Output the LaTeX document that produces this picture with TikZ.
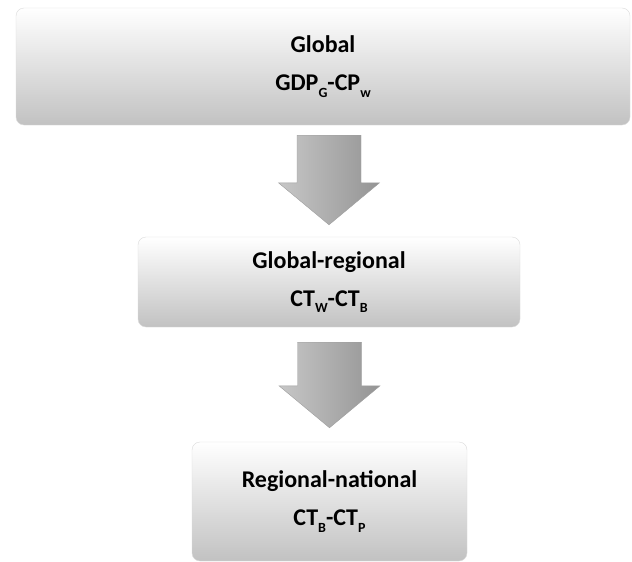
\documentclass[tikz,border=0pt]{standalone}
\usepackage{fontspec}
\setmainfont{Carlito}
\usetikzlibrary{calc}
\newcommand{\lo}[1]{\raisebox{-0.28em}{\fontsize{14}{14}\selectfont #1}}
\tikzset{
        stage/.style={
                rectangle,
                rounded corners=8pt,
                draw=black!14,
                top color=white,
                bottom color=black!24,
                align=center,
                inner sep=0pt,
                font=\fontsize{24}{38}\selectfont\bfseries
            },
        flow/.style={
                draw=black!38,
                left color=black!22,
                right color=black!42
            },
}
% block arrow from the bottom of #1 to the top of #2
\newcommand{\flowarrow}[4]{
  \path[flow] let \p1=(#1.south), \p2=(#2.north) in
    (\x2-32pt,\y1-#3) -- (\x2+32pt,\y1-#3) -- (\x2+32pt,\y2+#4+42pt)
    -- (\x2+50.5pt,\y2+#4+42pt) -- (\x2,\y2+#4) -- (\x2-50.5pt,\y2+#4+42pt)
    -- (\x2-32pt,\y2+#4+42pt) -- cycle;
}

\begin{document}
\begin{tikzpicture}[x=1pt,y=-1pt]
  \useasboundingbox (0,0) rectangle (632,562);
  % Levels
  \node[stage,minimum width=614pt,minimum height=117pt] (global) at (323,66.5)
    {Global\\GDP\lo{G}-CP\lo{w}};
  \node[stage,minimum width=382pt,minimum height=90pt] (regional) at (329,282)
    {Global-regional\\CT\lo{W}-CT\lo{B}};
  \node[stage,minimum width=275pt,minimum height=119pt] (national) at (329.5,501.5)
    {Regional-national\\CT\lo{B}-CT\lo{P}};
  % Arrows
  \flowarrow{global}{regional}{10pt}{12pt}
  \flowarrow{regional}{national}{15pt}{14pt}
\end{tikzpicture}
\end{document}
